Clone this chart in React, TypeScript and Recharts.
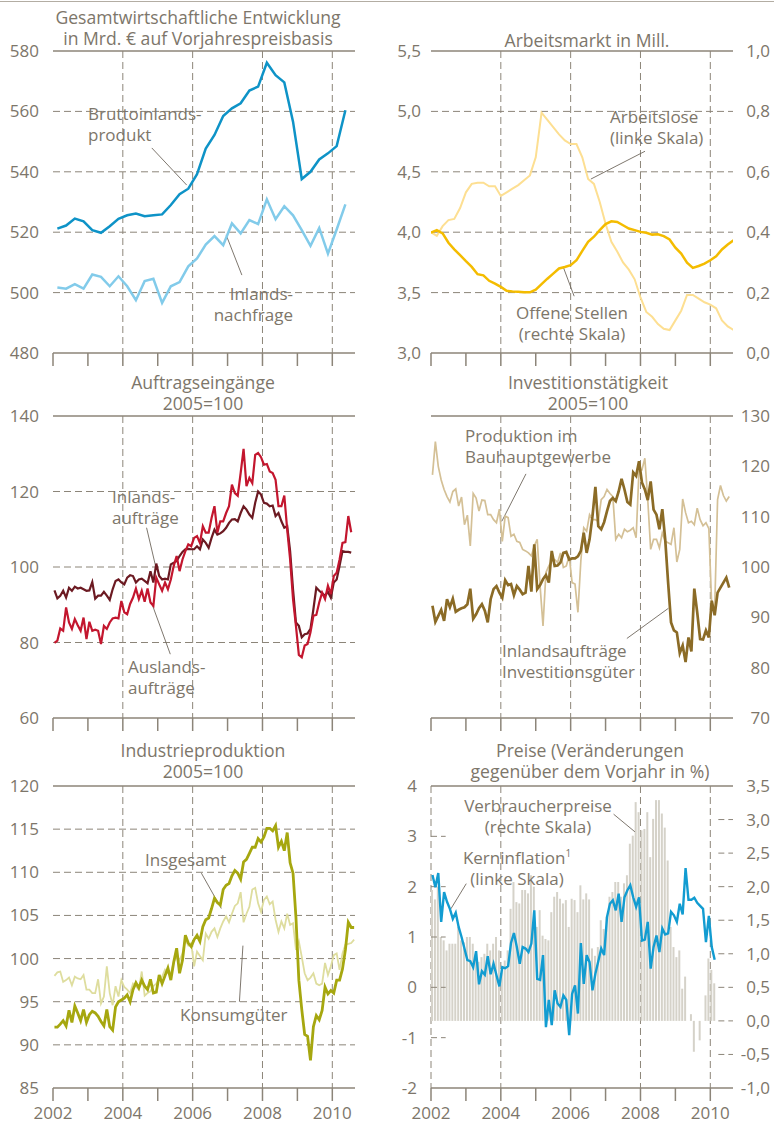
import React from "react";
import { Bar, CartesianGrid, ComposedChart, Line, ReferenceLine, XAxis, YAxis } from "recharts";

const FONT = "'Open Sans', sans-serif";
const TEXT = "#7d766a";
const RULE = "#8c8579";
const LEADER = "#6f685d";
const YEARS = [2002, 2003, 2004, 2005, 2006, 2007, 2008, 2009, 2010];
const X_END = 2010.65;
const PLOT_W = 302;
const PLOT_H = 302;

// Gesamtwirtschaftliche Entwicklung (quarterly, Mrd. Euro)
const bip = [521.2, 522.2, 524.5, 523.6, 520.7, 519.8, 522.0, 524.4, 525.6, 526.2, 525.3, 525.6, 525.9, 529.0, 532.6, 534.4, 539.2, 547.7, 552.2, 558.5, 561.0, 562.7, 566.9, 568.2, 576.1, 572.0, 569.6, 556.6, 537.6, 540.0, 544.1, 546.1, 548.5, 560.4];
const inlandsnachfrage = [501.7, 501.3, 502.8, 501.3, 506.0, 505.2, 502.1, 505.4, 502.1, 497.5, 503.8, 504.6, 496.6, 502.1, 503.5, 508.7, 511.3, 515.9, 518.7, 515.7, 522.9, 519.6, 524.0, 522.7, 530.9, 524.3, 528.6, 525.6, 520.7, 515.5, 521.4, 512.9, 520.9, 529.2];

// Arbeitsmarkt (every two months, Mill.)
const arbeitslose = [4.0, 3.97, 4.05, 4.1, 4.11, 4.2, 4.33, 4.4, 4.41, 4.41, 4.38, 4.38, 4.3, 4.33, 4.36, 4.39, 4.43, 4.47, 4.62, 4.99, 4.93, 4.87, 4.81, 4.76, 4.73, 4.73, 4.62, 4.44, 4.4, 4.25, 4.07, 3.92, 3.84, 3.75, 3.69, 3.61, 3.46, 3.34, 3.3, 3.24, 3.2, 3.19, 3.27, 3.35, 3.48, 3.48, 3.45, 3.42, 3.4, 3.37, 3.27, 3.22, 3.19];
const offeneStellen = [0.399, 0.407, 0.396, 0.365, 0.343, 0.324, 0.304, 0.285, 0.261, 0.257, 0.239, 0.23, 0.219, 0.206, 0.204, 0.203, 0.201, 0.201, 0.21, 0.228, 0.246, 0.263, 0.28, 0.285, 0.291, 0.307, 0.338, 0.368, 0.385, 0.407, 0.427, 0.436, 0.434, 0.423, 0.412, 0.407, 0.401, 0.398, 0.392, 0.393, 0.387, 0.376, 0.349, 0.329, 0.299, 0.282, 0.288, 0.296, 0.307, 0.32, 0.343, 0.359, 0.373];

// Auftragseingänge (monthly, 2005=100)
const inlandsauftraege = [93.8, 91.7, 92.4, 93.7, 91.9, 94.5, 93.7, 94.8, 94.3, 94.5, 94.1, 93.7, 93.8, 96.0, 91.6, 92.4, 92.4, 93.4, 92.4, 91.3, 94.1, 96.3, 96.7, 95.9, 95.4, 97.2, 97.8, 97.6, 95.9, 96.7, 96.9, 96.3, 95.7, 98.9, 95.9, 100.9, 97.6, 96.7, 96.9, 96.7, 100.7, 101.1, 101.6, 102.9, 104.0, 104.7, 104.8, 104.7, 104.7, 105.5, 104.7, 107.3, 106.4, 105.1, 107.7, 109.9, 108.6, 108.9, 109.5, 110.4, 111.7, 112.6, 112.7, 112.1, 114.3, 116.1, 115.2, 113.9, 113.0, 117.0, 120.0, 119.2, 117.0, 116.8, 116.1, 116.3, 113.5, 114.3, 112.1, 110.4, 110.8, 104.2, 94.1, 85.3, 84.4, 81.4, 82.2, 82.4, 83.6, 88.8, 94.5, 93.7, 93.1, 92.4, 93.4, 91.9, 95.9, 96.7, 100.3, 104.2, 104.0, 104.0, 103.8];
const auslandsauftraege = [79.9, 80.5, 83.7, 83.1, 89.3, 85.3, 83.6, 86.2, 84.6, 83.1, 86.6, 80.9, 85.5, 83.1, 83.4, 83.1, 79.6, 84.4, 83.6, 85.3, 86.4, 86.6, 86.4, 91.0, 88.0, 87.5, 90.2, 91.9, 94.3, 91.5, 93.7, 90.8, 94.3, 90.6, 89.7, 97.2, 95.4, 93.7, 95.9, 94.1, 96.7, 100.3, 102.9, 98.9, 102.0, 104.2, 106.0, 105.5, 107.7, 108.2, 106.4, 110.8, 109.1, 109.1, 113.0, 116.1, 109.1, 112.1, 112.1, 114.3, 116.1, 121.8, 119.6, 118.9, 124.9, 131.3, 121.4, 123.6, 122.2, 129.7, 130.2, 129.1, 127.1, 127.3, 125.3, 124.9, 123.1, 116.1, 116.1, 118.9, 109.9, 102.0, 91.5, 84.4, 76.7, 76.1, 79.2, 79.6, 82.7, 87.1, 87.3, 90.6, 93.2, 91.5, 95.0, 92.8, 97.6, 98.5, 102.0, 106.4, 106.6, 113.5, 109.2];

// Investitionstätigkeit (monthly, 2005=100)
const bauproduktion = [118.3, 124.9, 120.0, 117.3, 115.4, 114.0, 112.9, 115.0, 115.5, 112.1, 113.9, 108.4, 110.3, 104.2, 114.6, 113.7, 111.1, 113.3, 113.2, 110.4, 110.4, 109.4, 108.8, 111.5, 105.1, 110.1, 109.8, 106.1, 106.5, 105.1, 104.9, 103.5, 103.2, 102.8, 102.2, 104.2, 105.5, 96.2, 88.3, 98.9, 100.2, 101.2, 101.5, 100.9, 102.8, 99.9, 100.2, 102.2, 96.9, 96.6, 91.0, 101.2, 107.8, 107.1, 110.4, 109.4, 109.4, 109.1, 113.4, 114.0, 115.4, 114.6, 114.0, 105.5, 106.5, 105.8, 107.5, 107.0, 107.3, 107.8, 105.8, 119.3, 119.3, 121.6, 113.4, 103.5, 105.5, 105.5, 103.8, 106.8, 105.1, 104.8, 104.5, 107.8, 101.0, 103.5, 113.5, 110.8, 108.8, 109.1, 108.4, 111.7, 109.4, 108.2, 108.8, 107.6, 92.0, 91.6, 113.4, 116.2, 114.2, 113.1, 114.0];
const investitionsgueter = [92.3, 89.1, 90.3, 91.5, 89.3, 93.6, 92.0, 93.7, 91.1, 91.5, 91.8, 92.0, 92.6, 95.7, 89.7, 90.6, 91.8, 92.6, 91.3, 89.0, 93.6, 95.6, 96.2, 94.9, 93.9, 97.4, 96.4, 96.6, 94.4, 96.2, 95.5, 94.6, 94.9, 100.2, 95.1, 104.5, 95.6, 96.4, 97.6, 98.4, 96.9, 103.2, 100.2, 100.3, 100.9, 102.8, 103.0, 101.5, 101.7, 101.7, 102.1, 103.2, 106.8, 102.8, 105.5, 110.1, 115.9, 108.1, 107.5, 108.9, 111.1, 113.1, 113.7, 113.1, 115.0, 117.5, 115.4, 112.9, 112.4, 118.8, 118.1, 121.0, 116.8, 115.4, 113.3, 117.0, 111.4, 110.4, 107.5, 111.5, 105.5, 96.9, 89.0, 87.4, 87.0, 82.9, 84.4, 81.1, 86.0, 83.2, 95.7, 91.0, 85.7, 85.6, 87.4, 86.0, 93.3, 90.4, 94.9, 95.9, 96.9, 97.9, 95.9];

// Industrieproduktion (monthly, 2005=100)
const insgesamt = [92.05, 92.05, 92.4, 92.8, 92.2, 94.0, 92.6, 94.5, 93.7, 92.8, 94.1, 92.6, 93.5, 93.9, 93.7, 93.3, 92.7, 92.2, 94.1, 92.1, 91.7, 94.4, 95.0, 95.2, 95.4, 95.8, 95.0, 96.4, 97.2, 96.6, 97.5, 96.8, 96.4, 97.6, 96.0, 96.1, 98.1, 97.1, 98.0, 98.9, 97.5, 99.6, 101.2, 98.3, 99.8, 102.7, 101.8, 101.4, 102.2, 102.7, 102.0, 103.7, 104.5, 104.7, 105.8, 107.0, 106.5, 106.2, 108.0, 108.5, 108.7, 109.6, 110.2, 109.9, 109.2, 111.2, 111.5, 112.2, 112.9, 112.9, 113.9, 113.5, 114.1, 115.1, 115.1, 114.8, 115.4, 112.9, 113.6, 112.5, 114.6, 111.1, 109.9, 104.8, 97.5, 94.1, 91.2, 91.0, 88.2, 92.1, 93.4, 92.9, 94.0, 96.7, 95.9, 96.3, 96.0, 97.5, 97.5, 98.8, 101.0, 104.2, 103.6, 103.6];
const konsumgueter = [98.0, 98.4, 98.5, 97.3, 97.5, 97.8, 96.9, 97.9, 97.7, 97.6, 98.1, 96.4, 96.4, 96.0, 96.0, 97.6, 94.8, 95.6, 99.1, 96.0, 94.6, 96.8, 95.6, 97.5, 96.7, 96.4, 96.0, 97.1, 96.8, 96.4, 98.5, 95.7, 96.0, 96.2, 96.8, 97.1, 97.6, 97.9, 98.7, 98.3, 98.3, 99.6, 100.2, 99.8, 100.6, 102.2, 101.5, 101.8, 99.1, 100.8, 100.3, 99.8, 102.9, 102.3, 103.1, 103.5, 102.5, 103.5, 104.3, 104.9, 104.2, 105.2, 106.1, 106.4, 107.7, 104.2, 105.2, 106.0, 108.0, 108.2, 106.4, 105.4, 106.8, 107.2, 106.3, 106.6, 104.5, 103.1, 104.3, 103.5, 105.2, 103.9, 104.1, 101.0, 102.0, 100.2, 98.3, 97.5, 97.8, 98.3, 97.1, 96.9, 97.1, 99.5, 98.1, 99.1, 100.4, 100.6, 98.7, 100.6, 101.6, 101.7, 101.8, 102.2];

// Preise (monthly, % gegenüber Vorjahr)
const kerninflation = [2.23, 1.99, 2.27, 1.3, 1.89, 1.7, 1.56, 1.36, 1.48, 1.2, 1.0, 0.77, 0.54, 0.52, 0.4, 0.72, 0.06, 0.32, 0.25, 0.62, 0.26, 0.47, 0.24, 0.02, 0.4, 0.38, 0.42, 0.88, 1.08, 0.8, 0.47, 0.8, 0.77, 0.7, 0.87, 1.53, 0.17, 0.15, 0.64, -0.79, -0.25, -0.75, -0.06, -0.32, -0.39, -0.16, -0.25, -0.95, -0.13, 0.04, -0.52, 0.88, 0.07, 0.64, 0.5, -0.06, 0.27, 0.52, 0.77, 0.64, 1.4, 1.66, 1.73, 1.53, 1.86, 1.3, 1.79, 1.93, 2.03, 1.79, 1.6, 1.79, 0.93, 0.95, 1.3, 0.37, 0.8, 1.03, 0.7, 1.17, 1.05, 1.07, 1.5, 1.43, 1.3, 1.66, 1.45, 2.37, 1.74, 1.74, 1.78, 1.68, 1.62, 1.56, 0.9, 1.42, 0.8, 0.55];
const verbraucherpreise = [1.95, 1.81, 2.0, 1.25, 1.2, 1.05, 1.15, 1.15, 1.15, 1.4, 1.2, 1.17, 1.25, 1.25, 1.15, 1.0, 0.88, 0.95, 1.0, 1.15, 1.05, 1.15, 1.25, 1.05, 0.8, 0.9, 1.05, 1.67, 2.07, 1.77, 1.75, 1.95, 1.95, 1.9, 2.17, 2.0, 1.4, 1.65, 1.27, 1.22, 1.2, 1.62, 1.85, 1.92, 1.82, 1.75, 1.8, 1.4, 1.82, 1.8, 1.62, 2.02, 1.81, 1.9, 1.81, 1.08, 0.97, 1.1, 1.5, 1.37, 1.55, 1.85, 1.92, 2.07, 2.07, 1.85, 2.05, 2.17, 2.64, 2.76, 3.26, 3.11, 2.84, 2.86, 3.11, 2.44, 3.01, 3.29, 3.29, 3.09, 2.88, 2.39, 1.4, 1.1, 0.95, 1.05, 0.48, 0.66, 0.0, 0.1, -0.46, 0.0, -0.29, 0.0, 0.38, 0.93, 0.76, 0.56];

const quarterly = (i: number) => 2002.125 + i * 0.25;
const bimonthly = (i: number) => 2002 + i / 6;
const monthly = (i: number) => 2002 + (i + 0.5) / 12;

function table(time: (i: number) => number, cols: Record<string, number[]>) {
  const n = Math.max(...Object.values(cols).map((c) => c.length));
  return Array.from({ length: n }, (_, i) => {
    const row: Record<string, number> = { t: time(i) };
    for (const k of Object.keys(cols)) if (cols[k][i] !== undefined) row[k] = cols[k][i];
    return row;
  });
}

const range = (a: number, b: number, s: number) => {
  const out: number[] = [];
  for (let v = a; v <= b + 1e-9; v += s) out.push(Math.round(v * 100) / 100);
  return out;
};
const comma = (v: number) => v.toFixed(1).replace(".", ",");

const tickFont = { fill: TEXT, fontSize: 17, fontFamily: FONT };

type AxisCfg = {
  domain: [number, number];
  ticks: number[];
  show: boolean;
  margin?: number;
  fmt?: (v: number) => string;
};

function Panel(props: {
  x0: number;
  y0: number;
  data: any[];
  left: AxisCfg;
  right: AxisCfg;
  grid: number[];
  vGrid: number[];
  yearLabels?: boolean;
  children?: React.ReactNode;
}) {
  const { x0, y0, data, left, right, grid, vGrid, yearLabels, children } = props;
  const ml = 60;
  const mt = 12;
  return (
    <div style={{ position: "absolute", left: x0 - ml, top: y0 - mt }}>
      <ComposedChart
        width={ml + PLOT_W + 60}
        height={mt + PLOT_H + 40}
        data={data}
        margin={{ top: mt, right: 20, bottom: 10, left: 20 }}
      >
        <CartesianGrid
          yAxisId="L"
          horizontal={grid.length > 0}
          horizontalValues={grid}
          verticalValues={vGrid}
          stroke={RULE}
          strokeDasharray="7 4"
        />
        <XAxis
          dataKey="t"
          type="number"
          domain={[2002, X_END]}
          ticks={YEARS}
          interval={0}
          allowDataOverflow
          height={30}
          tickSize={13}
          tickMargin={6}
          axisLine={{ stroke: RULE, strokeWidth: 1.5 }}
          tickLine={{ stroke: RULE, strokeWidth: 1.5 }}
          tick={tickFont}
          tickFormatter={(v: number) => (yearLabels && v % 2 === 0 ? String(v) : "")}
        />
        <YAxis
          yAxisId="L"
          type="number"
          domain={left.domain}
          ticks={left.ticks}
          interval={0}
          allowDataOverflow
          width={40}
          axisLine={false}
          tickLine={false}
          tickSize={0}
          tickMargin={left.margin ?? 14}
          tick={left.show ? tickFont : false}
          tickFormatter={left.fmt ?? ((v: number) => String(v))}
        />
        <YAxis
          yAxisId="R"
          orientation="right"
          type="number"
          domain={right.domain}
          ticks={right.ticks}
          interval={0}
          allowDataOverflow
          width={40}
          axisLine={false}
          tickLine={false}
          tickSize={0}
          tickMargin={37}
          tick={right.show ? { ...tickFont, textAnchor: "end" } : false}
          tickFormatter={right.fmt ?? ((v: number) => String(v))}
        />
        <ReferenceLine yAxisId="L" y={left.domain[1]} stroke={RULE} strokeWidth={1.5} />
        {children}
      </ComposedChart>
    </div>
  );
}

function Leader({ axis = "L", from, to }: { axis?: string; from: [number, number]; to: [number, number] }) {
  return (
    <ReferenceLine
      yAxisId={axis}
      segment={[
        { x: from[0], y: from[1] },
        { x: to[0], y: to[1] },
      ]}
      stroke={LEADER}
      strokeWidth={0.9}
    />
  );
}

function Note(props: {
  x: number;
  y: number;
  size?: number;
  align?: "left" | "center" | "right";
  children: React.ReactNode;
}) {
  const { x, y, size = 17, align = "left", children } = props;
  const w = 300;
  const left = align === "left" ? x : align === "center" ? x - w / 2 : x - w;
  return (
    <div
      style={{
        position: "absolute",
        left,
        top: y,
        width: w,
        textAlign: align,
        fontFamily: FONT,
        fontSize: size,
        lineHeight: "21px",
        color: TEXT,
        whiteSpace: "pre",
      }}
    >
      {children}
    </div>
  );
}

const noAxis: AxisCfg = { domain: [0, 1], ticks: [], show: false };
const evenYears = [2004, 2006, 2008, 2010];

export default function App() {
  const gdpData = table(quarterly, { bip, inlandsnachfrage });
  const jobData = table(bimonthly, { arbeitslose, offeneStellen });
  const orderData = table(monthly, { inlandsauftraege, auslandsauftraege });
  const investData = table(monthly, { bauproduktion, investitionsgueter });
  const prodData = table(monthly, { insgesamt, konsumgueter });
  const priceData = table(monthly, { verbraucherpreise, kerninflation });

  return (
    <div style={{ position: "absolute", left: 0, top: 0, width: 774, height: 1128, background: "#fff", overflow: "hidden" }}>
      <div style={{ position: "absolute", left: 0, top: 1, width: 774, height: 1, background: "#b3ada3" }} />

      {/* Gesamtwirtschaftliche Entwicklung */}
      <Panel
        x0={53}
        y0={51}
        data={gdpData}
        left={{ domain: [480, 580], ticks: range(480, 580, 20), show: true, margin: 14 }}
        right={noAxis}
        grid={[500, 520, 540, 560]}
        vGrid={evenYears}
      >
        <Leader from={[2004.83, 547.9]} to={[2005.83, 535.6]} />
        <Leader from={[2006.96, 519.1]} to={[2007.41, 505.8]} />
        <Line yAxisId="L" dataKey="inlandsnachfrage" stroke="#82cbea" strokeWidth={2.5} dot={false} isAnimationActive={false} />
        <Line yAxisId="L" dataKey="bip" stroke="#0e93c7" strokeWidth={2.5} dot={false} isAnimationActive={false} />
      </Panel>

      {/* Arbeitsmarkt */}
      <Panel
        x0={431}
        y0={51}
        data={jobData}
        left={{ domain: [3, 5.5], ticks: range(3, 5.5, 0.5), show: true, margin: 10, fmt: comma }}
        right={{ domain: [0, 1], ticks: range(0, 1, 0.2), show: true, fmt: comma }}
        grid={[3.5, 4, 4.5, 5]}
        vGrid={evenYears}
      >
        <Leader from={[2008.13, 4.67]} to={[2006.58, 4.44]} />
        <Leader from={[2005.79, 3.71]} to={[2006.1, 3.47]} />
        <Line yAxisId="L" dataKey="arbeitslose" stroke="#fddf92" strokeWidth={2} dot={false} isAnimationActive={false} />
        <Line yAxisId="R" dataKey="offeneStellen" stroke="#f4bc00" strokeWidth={2.5} dot={false} isAnimationActive={false} />
      </Panel>

      {/* Auftragseingänge */}
      <Panel
        x0={53}
        y0={416}
        data={orderData}
        left={{ domain: [60, 140], ticks: range(60, 140, 20), show: true, margin: 14 }}
        right={noAxis}
        grid={[80, 100, 120]}
        vGrid={evenYears}
      >
        <Leader from={[2004.68, 110.4]} to={[2004.96, 99.4]} />
        <Leader from={[2004.82, 90.6]} to={[2005.36, 76.9]} />
        <Line yAxisId="L" dataKey="inlandsauftraege" stroke="#6c1a22" strokeWidth={2.2} dot={false} isAnimationActive={false} />
        <Line yAxisId="L" dataKey="auslandsauftraege" stroke="#c3162e" strokeWidth={2.2} dot={false} isAnimationActive={false} />
      </Panel>

      {/* Investitionstätigkeit */}
      <Panel
        x0={431}
        y0={416}
        data={investData}
        left={{ domain: [70, 130], ticks: range(70, 130, 10), show: false }}
        right={{ domain: [70, 130], ticks: range(70, 130, 10), show: true }}
        grid={[80, 90, 100, 110, 120]}
        vGrid={evenYears}
      >
        <Leader from={[2004.72, 118.5]} to={[2004.03, 109.1]} />
        <Leader from={[2007.61, 85.8]} to={[2008.8, 91.8]} />
        <Line yAxisId="L" dataKey="bauproduktion" stroke="#d4c096" strokeWidth={1.7} dot={false} isAnimationActive={false} />
        <Line yAxisId="L" dataKey="investitionsgueter" stroke="#8b6b26" strokeWidth={2.7} dot={false} isAnimationActive={false} />
      </Panel>

      {/* Industrieproduktion */}
      <Panel
        x0={53}
        y0={786}
        data={prodData}
        left={{ domain: [85, 120], ticks: range(85, 120, 5), show: true, margin: 14 }}
        right={noAxis}
        grid={[90, 95, 100, 105, 110, 115]}
        vGrid={evenYears}
        yearLabels
      >
        <Leader from={[2006.25, 109.9]} to={[2006.82, 105.8]} />
        <Leader from={[2007.44, 101.5]} to={[2007.34, 95.0]} />
        <Line yAxisId="L" dataKey="konsumgueter" stroke="#dedd9e" strokeWidth={1.8} dot={false} isAnimationActive={false} />
        <Line yAxisId="L" dataKey="insgesamt" stroke="#a6a70f" strokeWidth={2.8} dot={false} isAnimationActive={false} />
      </Panel>

      {/* Preise */}
      <Panel
        x0={431}
        y0={786}
        data={priceData}
        left={{ domain: [-2, 4], ticks: range(-2, 4, 1), show: true, margin: 14 }}
        right={{ domain: [-1, 3.5], ticks: range(-1, 3.5, 0.5), show: true, fmt: comma }}
        grid={[]}
        vGrid={[2002, 2004, 2008, 2010]}
        yearLabels
      >
        {[-1, 0, 1, 2, 3].map((v) => (
          <ReferenceLine
            key={"l" + v}
            yAxisId="L"
            segment={[
              { x: 2002, y: v },
              { x: 2002.42, y: v },
            ]}
            stroke={RULE}
            strokeDasharray="6 4"
          />
        ))}
        {[-0.5, 0, 0.5, 1, 1.5, 2, 2.5, 3].map((v) => (
          <ReferenceLine
            key={"r" + v}
            yAxisId="R"
            segment={[
              { x: 2010.23, y: v },
              { x: X_END, y: v },
            ]}
            stroke={RULE}
            strokeDasharray="6 4"
          />
        ))}
        <Bar yAxisId="R" dataKey="verbraucherpreise" fill="#d5d2c9" barSize={2} isAnimationActive={false} />
        <Leader from={[2007.23, 3.44]} to={[2007.84, 3.09]} />
        <Leader from={[2003.01, 2.06]} to={[2002.57, 1.56]} />
        <Line yAxisId="L" dataKey="kerninflation" stroke="#129cd1" strokeWidth={2.4} dot={false} isAnimationActive={false} />
      </Panel>

      {/* Titles */}
      <Note x={198} y={6.5} size={17.6} align="center">{"Gesamtwirtschaftliche Entwicklung\nin Mrd. € auf Vorjahrespreisbasis"}</Note>
      <Note x={587} y={29.5} size={17.6} align="center">{"Arbeitsmarkt in Mill."}</Note>
      <Note x={203} y={371.5} size={17.6} align="center">{"Auftragseingänge\n2005=100"}</Note>
      <Note x={588} y={371.5} size={17.6} align="center">{"Investitionstätigkeit\n2005=100"}</Note>
      <Note x={203} y={740} size={17.6} align="center">{"Industrieproduktion\n2005=100"}</Note>
      <Note x={590} y={740} size={17.6} align="center">{"Preise (Veränderungen\ngegenüber dem Vorjahr in %)"}</Note>

      {/* Series labels */}
      <Note x={88} y={102.5}>{"Bruttoinlands-\nprodukt"}</Note>
      <Note x={293} y={282.5} align="right">{"Inlands-\nnachfrage"}</Note>
      <Note x={610} y={106}>{"Arbeitslose\n(linke Skala)"}</Note>
      <Note x={572} y={302} align="center">{"Offene Stellen\n(rechte Skala)"}</Note>
      <Note x={112} y={486}>{"Inlands-\naufträge"}</Note>
      <Note x={128} y={655.5}>{"Auslands-\naufträge"}</Note>
      <Note x={465} y={425}>{"Produktion im\nBauhauptgewerbe"}</Note>
      <Note x={502} y={639.5}>{"Inlandsaufträge\nInvestitionsgüter"}</Note>
      <Note x={145} y={849}>{"Insgesamt"}</Note>
      <Note x={180} y={1003.5}>{"Konsumgüter"}</Note>
      <Note x={538} y={794.5} align="center">{"Verbraucherpreise\n(rechte Skala)"}</Note>
      <Note x={517} y={843} align="center">
        {"Kerninflation"}
        <span style={{ fontSize: 10, verticalAlign: "7px" }}>1</span>
        {"\n(linke Skala)"}
      </Note>
    </div>
  );
}
